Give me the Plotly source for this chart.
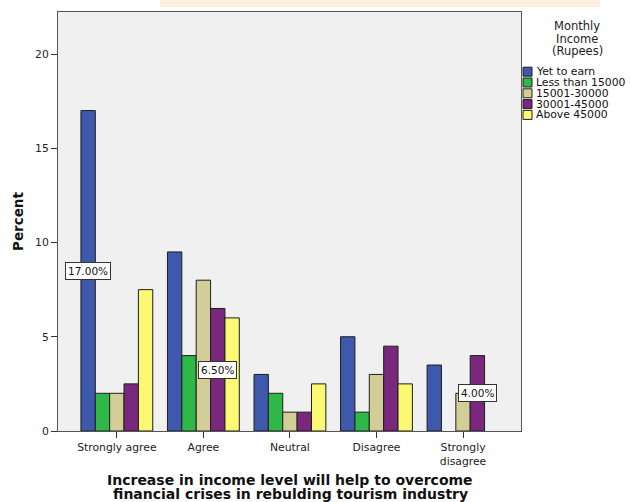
import plotly.graph_objects as go

categories = ["Strongly agree", "Agree", "Neutral", "Disagree", "Strongly disagree"]
tick_labels = ["Strongly agree", "Agree", "Neutral", "Disagree", "Strongly<br>disagree"]
series_names = ["Yet to earn", "Less than 15000", "15001-30000", "30001-45000", "Above 45000"]
yet_to_earn = [17.0, 9.5, 3.0, 5.0, 3.5]
less_15000 = [2.0, 4.0, 2.0, 1.0, None]
r15001_30000 = [2.0, 8.0, 1.0, 3.0, 2.0]
r30001_45000 = [2.5, 6.5, 1.0, 4.5, 4.0]
above_45000 = [7.5, 6.0, 2.5, 2.5, None]
series_values = [yet_to_earn, less_15000, r15001_30000, r30001_45000, above_45000]
colors = ["#3E58AC", "#2EB848", "#D3CE97", "#79287D", "#FBF873"]
labelled = [("Yet to earn", "Strongly agree"), ("30001-45000", "Agree"), ("30001-45000", "Strongly disagree")]
y_ticks = [0, 5, 10, 15, 20]

W, H = 630, 502
L, R, T, B = 58, 521, 12, 431  # plot area pixels
BARGAP = 0.17
FONT = "DejaVu Sans"

def px_x(p):
    return (p - L) / (R - L)

def px_y(p):
    return (B - p) / (B - T)

fig = go.Figure()
for name, vals, col in zip(series_names, series_values, colors):
    fig.add_trace(go.Bar(
        x=categories, y=vals, name=name,
        marker=dict(color=col, line=dict(color="#1e1e1e", width=1)),
        showlegend=False,
    ))

ymax = (B - T) / ((B - 54) / 20.0)
n = len(series_names)
bw = (1 - BARGAP) / n
annotations = []
for sname, cat in labelled:
    si = series_names.index(sname)
    ci = categories.index(cat)
    v = series_values[si][ci]
    annotations.append(dict(
        x=ci + (si - (n - 1) / 2) * bw, y=v / 2, xref="x", yref="y",
        text=f"{v:.2f}%", showarrow=False, xanchor="center", yanchor="middle",
        font=dict(family=FONT, size=10.5, color="#111"),
        bgcolor="white", bordercolor="#333", borderwidth=1, borderpad=2,
    ))

# axis titles
annotations.append(dict(x=px_x(17.5), y=0.5, xref="paper", yref="paper", text="<b>Percent</b>",
                        textangle=-90, showarrow=False, xanchor="center", yanchor="middle",
                        font=dict(family=FONT, size=13.5, color="#111")))
annotations.append(dict(x=px_x(290), y=px_y(480), xref="paper", yref="paper",
                        text="<b>Increase in income level will help to overcome</b>", showarrow=False,
                        xanchor="center", yanchor="middle", font=dict(family=FONT, size=14, color="#111")))
annotations.append(dict(x=px_x(290), y=px_y(494), xref="paper", yref="paper",
                        text="<b>financial crises in rebulding tourism industry</b>", showarrow=False,
                        xanchor="center", yanchor="middle", font=dict(family=FONT, size=14, color="#111")))

# manual legend
for i, line in enumerate(["Monthly", "Income", "(Rupees)"]):
    annotations.append(dict(x=px_x(577), y=px_y(26 + 12.5 * i), xref="paper", yref="paper", text=line,
                            showarrow=False, xanchor="center", yanchor="middle",
                            font=dict(family=FONT, size=11.5, color="#222")))
shapes = []
for i, (name, col) in enumerate(zip(series_names, colors)):
    cy = 71.7 + 10.8 * i
    shapes.append(dict(type="rect", xref="paper", yref="paper",
                       x0=px_x(523), x1=px_x(532), y0=px_y(cy + 4.5), y1=px_y(cy - 4.5),
                       fillcolor=col, line=dict(color="#1e1e1e", width=1)))
    annotations.append(dict(x=px_x(533.5), y=px_y(cy), xref="paper", yref="paper", text=name,
                            showarrow=False, xanchor="left", yanchor="middle",
                            font=dict(family=FONT, size=10.8, color="#111")))

# faint peach glow at top
shapes.append(dict(type="rect", xref="paper", yref="paper", layer="below",
                   x0=px_x(160), x1=px_x(600), y0=px_y(7), y1=px_y(0),
                   fillcolor="rgba(252,228,204,0.6)", line=dict(width=0)))

fig.update_layout(
    width=W, height=H,
    margin=dict(l=L, r=W - R, t=T, b=H - B, pad=0),
    paper_bgcolor="white", plot_bgcolor="#F0F0F0",
    barmode="group", bargap=BARGAP, bargroupgap=0,
    font=dict(family=FONT, size=10.8, color="#222"),
    annotations=annotations, shapes=shapes,
    xaxis=dict(type="category", range=[-0.68, 4.67], tickvals=categories, ticktext=tick_labels,
               ticks="outside", ticklen=6, tickcolor="#333", showline=True, linecolor="#555",
               linewidth=1, mirror=True, showgrid=False, zeroline=False,
               tickfont=dict(family=FONT, size=10.8, color="#222")),
    yaxis=dict(range=[0, ymax], tickvals=y_ticks, ticks="outside", ticklen=6, tickcolor="#333",
               showline=True, linecolor="#555", linewidth=1, mirror=True, showgrid=False,
               zeroline=False, tickfont=dict(family=FONT, size=10.8, color="#222")),
    showlegend=False,
)
fig.write_html("out.html", config={"displayModeBar": False},
               post_script="document.body.style.margin='0';document.body.style.overflow='hidden';")
